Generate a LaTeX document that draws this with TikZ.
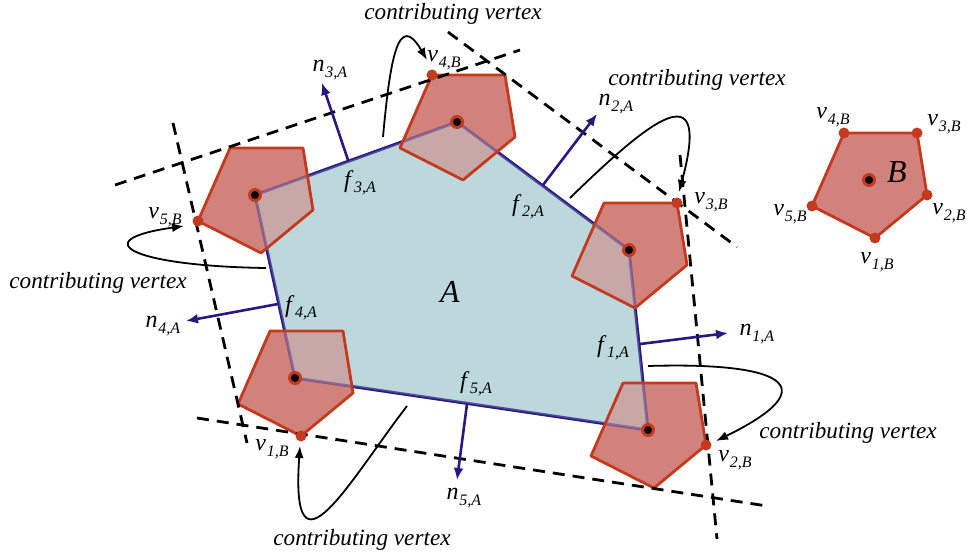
\documentclass[tikz,border=0pt]{standalone}
\usepackage{fontspec}
\setmainfont{Liberation Serif}
\usetikzlibrary{arrows.meta,calc}
\definecolor{redfill}{RGB}{210,130,125}
\definecolor{rededge}{RGB}{196,58,30}
\definecolor{bluefill}{RGB}{188,216,220}
\definecolor{navyc}{RGB}{40,24,130}
\newcommand{\vlab}[2]{\textit{#1}\kern0.03em\raisebox{-0.5ex}{\fontsize{8}{9}\selectfont\textit{#2}}}
\begin{document}
\begin{tikzpicture}[x=0.5pt,y=-0.5pt,
  lab/.style={font=\fontsize{12}{14}\selectfont, inner sep=0pt},
  big/.style={font=\fontsize{16}{18}\selectfont\itshape, inner sep=0pt},
  contrib/.style={font=\fontsize{11.6}{14}\selectfont\itshape, inner sep=0pt},
  sepline/.style={black, line width=1.4pt, dash pattern=on 6pt off 4pt},
  normal/.style={navyc, line width=1.3pt, -{Latex[length=6pt,width=5pt]}},
  curvearrow/.style={black, line width=0.9pt, -{Latex[length=6pt,width=4.5pt]}},
  vdot/.style={circle, fill=rededge, minimum size=5.5pt, inner sep=0pt},
  cring/.style={circle, fill=rededge, minimum size=7pt, inner sep=0pt},
  cdot/.style={circle, fill=black, minimum size=4pt, inner sep=0pt},
  pentedge/.style={rededge, line width=1.4pt, line join=round}]
\useasboundingbox (0,0) rectangle (967,556);

% vertices of A (reference points of the copies of B)
\coordinate (p1) at (648,430);
\coordinate (p2) at (629,250);
\coordinate (p3) at (457,122);
\coordinate (p4) at (255,195);
\coordinate (p5) at (295,378);
\coordinate (pB) at (869,180);

% polygon A
\fill[bluefill] (p1) -- (p2) -- (p3) -- (p4) -- (p5) -- cycle;
\draw[navyc, line width=1.5pt, line join=round] (p1) -- (p2) -- (p3) -- (p4) -- (p5) -- cycle;

% copies of B, fill
\foreach \c in {p1,p2,p3,p4,p5,pB}{
  \fill[redfill, shift={(\c)}] (6,58) -- (58,15) -- (48,-47) -- (-25,-47) -- (-57,26) -- cycle;
}
% overlap tinting
\fill[bluefill, fill opacity=0.45] (p1) -- (p2) -- (p3) -- (p4) -- (p5) -- cycle;
\draw[navyc, draw opacity=0.4, line width=1.5pt, line join=round] (p1) -- (p2) -- (p3) -- (p4) -- (p5) -- cycle;
% copies of B, edges
\foreach \c in {p1,p2,p3,p4,p5,pB}{
  \draw[pentedge, shift={(\c)}] (6,58) -- (58,15) -- (48,-47) -- (-25,-47) -- (-57,26) -- cycle;
}

% separating lines
\coordinate (s1a) at (115,185); \coordinate (s1b) at (520,50);
\coordinate (s2a) at (448,32);  \coordinate (s2b) at (737,247);
\coordinate (s3a) at (680,155); \coordinate (s3b) at (717,539);
\coordinate (s4a) at (197,418); \coordinate (s4b) at (767,506);
\coordinate (s5a) at (173,123); \coordinate (s5b) at (247,443);
\draw[sepline] (s1a) -- (s1b);
\draw[sepline] (s2a) -- (s2b);
\draw[sepline] (s3a) -- (s3b);
\draw[sepline] (s4a) -- (s4b);
\draw[sepline] (s5a) -- (s5b);

% normals
\coordinate (b3) at (348,160); \coordinate (t3) at (322,83);
\coordinate (b2) at (543,185); \coordinate (t2) at (597,114);
\coordinate (b1) at (640,344); \coordinate (t1) at (728,333);
\coordinate (b5) at (467,404); \coordinate (t5) at (457,480);
\coordinate (b4) at (278,304); \coordinate (t4) at (186,321);
\draw[normal] (b3) -- (t3);
\draw[normal] (b2) -- (t2);
\draw[normal] (b1) -- (t1);
\draw[normal] (b5) -- (t5);
\draw[normal] (b4) -- (t4);

% reference points
\foreach \c in {p1,p2,p3,p4,p5,pB}{
  \node[cring] at (\c) {};
  \node[cdot] at (\c) {};
}

% contributing vertices of the copies
\node[vdot] (v2c) at ($(p1)+(58,15)$) {};
\node[vdot] (v3c) at ($(p2)+(48,-47)$) {};
\node[vdot] (v4c) at ($(p3)+(-25,-47)$) {};
\node[vdot] (v5c) at ($(p4)+(-57,26)$) {};
\node[vdot] (v1c) at ($(p5)+(6,58)$) {};
% vertices of B
\node[vdot] (vb1) at ($(pB)+(6,58)$) {};
\node[vdot] (vb2) at ($(pB)+(58,15)$) {};
\node[vdot] (vb3) at ($(pB)+(48,-47)$) {};
\node[vdot] (vb4) at ($(pB)+(-25,-47)$) {};
\node[vdot] (vb5) at ($(pB)+(-57,26)$) {};

% curved arrows
\coordinate (ca1) at (383,137); \coordinate (ce1) at (427,60);
\coordinate (ca2) at (570,198); \coordinate (ce2) at (679,192);
\coordinate (ca3) at (266,268); \coordinate (ce3) at (184,226);
\coordinate (ca4) at (407,406); \coordinate (ce4) at (300,446);
\coordinate (ca5) at (648,366); \coordinate (ce5) at (716,441);
\draw[curvearrow] (ca1) .. controls (390,60) and (398,10) .. (ce1);
\draw[curvearrow] (ca2) .. controls (650,120) and (712,70) .. (ce2);
\draw[curvearrow] (ca3) .. controls (130,266) and (85,240) .. (ce3);
\draw[curvearrow] (ca4) .. controls (350,480) and (290,590) .. (ce4);
\draw[curvearrow] (ca5) .. controls (780,362) and (830,385) .. (ce5);

% labels
\node[contrib] (cl1) at (453,14) {contributing vertex};
\node[contrib] (cl2) at (697,80) {contributing vertex};
\node[contrib] (cl3) at (98,283) {contributing vertex};
\node[contrib] (cl4) at (362,540) {contributing vertex};
\node[contrib] (cl5) at (848,433) {contributing vertex};

\node[lab] (lv4c) at (444,60) {\vlab{v}{4,B}};
\node[lab] (lv3c) at (711,202) {\vlab{v}{3,B}};
\node[lab] (lv2c) at (735,460) {\vlab{v}{2,B}};
\node[lab] (lv1c) at (272,449) {\vlab{v}{1,B}};
\node[lab] (lv5c) at (165,217) {\vlab{v}{5,B}};

\node[lab] (lvb4) at (833,117) {\vlab{v}{4,B}};
\node[lab] (lvb3) at (944,124) {\vlab{v}{3,B}};
\node[lab] (lvb2) at (949,213) {\vlab{v}{2,B}};
\node[lab] (lvb1) at (877,262) {\vlab{v}{1,B}};
\node[lab] (lvb5) at (790,214) {\vlab{v}{5,B}};

\node[lab] (ln3) at (330,70) {\vlab{n}{3,A}};
\node[lab] (ln2) at (616,104) {\vlab{n}{2,A}};
\node[lab] (ln1) at (757,334) {\vlab{n}{1,A}};
\node[lab] (ln5) at (464,498) {\vlab{n}{5,A}};
\node[lab] (ln4) at (163,326) {\vlab{n}{4,A}};

\node[lab] (lf3) at (360,183) {\vlab{f}{3,A}};
\node[lab] (lf2) at (528,207) {\vlab{f}{2,A}};
\node[lab] (lf1) at (613,348) {\vlab{f}{1,A}};
\node[lab] (lf5) at (476,384) {\vlab{f}{5,A}};
\node[lab] (lf4) at (301,308) {\vlab{f}{4,A}};

\node[big] (lA) at (450,292) {A};
\node[big] (lB) at (897,172) {B};
\end{tikzpicture}
\end{document}
